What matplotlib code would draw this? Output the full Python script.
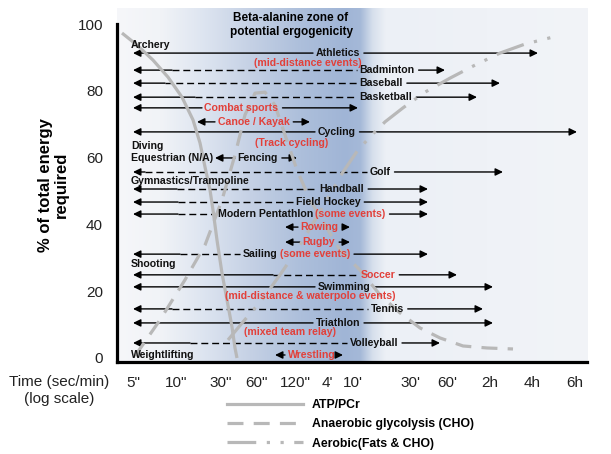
import numpy as np
import matplotlib
matplotlib.use("Agg")
import matplotlib.pyplot as plt
from matplotlib.lines import Line2D

plt.rcParams["font.family"] = ["Liberation Sans", "DejaVu Sans"]

# schematic log time axis: tick labels and their positions along the axis
time_labels = ['5"', '10"', '30"', '60"', '120"', "4'", "10'", "30'", "60'", "2h", "4h", "6h"]
time_pos = [16, 59, 104, 139, 178, 210, 236, 293, 330, 373, 415, 458]

# energy system curves (% of total energy)
atp_x = [5, 20, 36, 51, 65, 76, 83, 88, 93, 96, 100, 105, 110, 115, 118, 120]
atp_y = [97.3, 93.7, 89.2, 84.1, 78.1, 71.3, 64.4, 57.2, 50.3, 44.3, 35.3, 25.4, 17.4, 9.3, 3.0, 0]

glyc_x = [18, 43, 68, 88, 105, 118, 128, 138, 148, 158, 168, 180, 193, 208, 223, 243,
          263, 283, 303, 323, 346, 370, 396]
glyc_y = [0.6, 11.4, 23.4, 33.8, 47.3, 60.8, 72.8, 79.3, 79.6, 75.7, 66.8, 56.3, 47.3,
          39.8, 32.3, 26.3, 18.9, 13.5, 9.0, 6.0, 3.6, 3.0, 2.7]

aero_x = [111, 126, 145, 163, 180, 195, 211, 226, 241, 255, 268, 286, 308, 333, 358,
          383, 408, 440]
aero_y = [5.4, 10.8, 17.4, 24.9, 32.3, 39.8, 47.9, 55.7, 62.3, 66.8, 70.7, 74.9, 79.6,
          83.8, 87.7, 91.3, 94.0, 96.4]

# sports with their duration ranges
sports = ["Athletics", "Badminton", "Baseball", "Basketball", "Combat sports",
          "Canoe / Kayak", "Cycling", "Fencing", "Golf", "Handball", "Field Hockey",
          "Modern Pentathlon", "Rowing", "Rugby", "Sailing", "Soccer", "Swimming",
          "Tennis", "Triathlon", "Volleyball", "Wrestling"]
sport_y = [91.3, 86.2, 82.3, 78.1, 74.9, 70.7, 67.7, 59.9, 55.7, 50.6, 46.7, 43.1,
           39.2, 34.7, 31.1, 24.9, 21.3, 14.7, 10.5, 4.5, 0.9]
left_head = [16, 16, 16, 16, 16, 80, 16, 98, 16, 16, 16, 16, 168, 168, 16, 16, 16,
             16, 16, 16, 158]
solid_end = [196, 55, 48, 78, 85, 98, 198, 118, 28, 60, 61, 61, 181, 183, 63, 156,
             198, 55, 196, 73, 168]
left_end = [196, 240, 240, 240, 85, 98, 198, 118, 250, 200, 176, 98, 181, 183, 123,
            241, 198, 251, 196, 230, 168]
right_end = [421, 328, 383, 360, 241, 193, 460, 180, 386, 311, 311, 311, 233, 233,
             311, 340, 376, 366, 376, 323, 226]
red_sports = ["Combat sports", "Canoe / Kayak", "Rowing", "Rugby", "Soccer", "Wrestling"]
suffix = {"Modern Pentathlon": "(some events)", "Sailing": "(some events)"}

notes = ["(mid-distance events)", "(Track cycling)",
         "(mid-distance & waterpolo events)", "(mixed team relay)"]
note_x = [191, 175, 193, 173]
note_y = [88.3, 64.4, 18.5, 7.8]

plain = ["Archery", "Diving", "Equestrian (N/A)", "Gymnastics/Trampoline",
         "Shooting", "Weightlifting"]
plain_y = [93.7, 63.5, 59.9, 53.0, 28.1, 0.9]

RED = "#e2403a"
GRAY = "#b8b8b8"

fig = plt.figure(figsize=(6.11, 4.54), dpi=100)
ax = fig.add_axes([117 / 611, 92 / 454, 470 / 611, 354 / 454])
ax.set_xlim(0, 470)
ax.set_ylim(-1.2, 104.8)

# background with the beta-alanine zone
gx = np.linspace(0, 470, 600)
px = [0, 43, 83, 133, 183, 228, 243, 255, 268, 470]
cr = [246, 241, 223, 197, 173, 160, 165, 214, 236, 242]
cg = [247, 243, 230, 209, 191, 181, 185, 223, 240, 244]
cb = [250, 247, 241, 229, 219, 214, 216, 236, 246, 248]
grad = np.stack([np.interp(gx, px, cr), np.interp(gx, px, cg), np.interp(gx, px, cb)], axis=-1) / 255
ax.imshow(grad[None, :, :], extent=[0, 470, -1.2, 104.8], aspect="auto", zorder=0)

for s in ["top", "right"]:
    ax.spines[s].set_visible(False)
ax.spines["left"].set_linewidth(2.3)
ax.spines["bottom"].set_linewidth(2.3)
ax.spines["left"].set_bounds(-1.2, 100)

ax.set_yticks([0, 20, 40, 60, 80, 100])
ax.set_xticks(time_pos)
ax.set_xticklabels(time_labels)
ax.tick_params(length=0, labelsize=11, colors="#222222")
ax.tick_params(axis="y", pad=10)
ax.tick_params(axis="x", pad=10)

ax.set_ylabel("% of total energy\nrequired", fontsize=12, fontweight="bold", labelpad=6,
              linespacing=1.1)
fig.text(59 / 611, 1 - 375 / 454, "Time (sec/min)\n(log scale)", ha="center", va="top",
         fontsize=11, color="#222222", linespacing=1.25)

ax.text(174, 99.7, "Beta-alanine zone of\npotential ergogenicity", ha="center", va="center",
        fontsize=8.5, fontweight="bold", linespacing=1.3, zorder=5)

# energy curves
ax.plot(atp_x, atp_y, color=GRAY, lw=2.3, zorder=3, solid_capstyle="butt")
ax.plot(glyc_x, glyc_y, color=GRAY, lw=2.3, ls=(0, (5, 3.2)), zorder=3)
ax.plot(aero_x, aero_y, color=GRAY, lw=2.3, ls=(0, (9, 3.3, 1, 3.3, 1, 3.3)), zorder=3)

arrow_kw = dict(arrowstyle="-|>,head_length=0.45,head_width=0.22", lw=1.0, color="black",
                mutation_scale=10, shrinkA=0, shrinkB=0)

renderer = fig.canvas.get_renderer()
inv = ax.transData.inverted()

for i, name in enumerate(sports):
    y = sport_y[i]
    ax.annotate("", xy=(left_head[i], y), xytext=(solid_end[i], y), arrowprops=arrow_kw, zorder=2)
    if left_end[i] > solid_end[i]:
        ax.plot([solid_end[i], left_end[i]], [y, y], color="black", lw=1.0,
                ls=(0, (5, 2.8)), zorder=2)
    col = RED if name in red_sports else "#111111"
    t = ax.text(left_end[i] + 2.5, y, name, ha="left", va="center", fontsize=7.6,
                fontweight="bold", color=col, zorder=5)
    x_end = inv.transform(t.get_window_extent(renderer).get_points())[1, 0]
    if name in suffix:
        t2 = ax.text(x_end + 2.5, y, suffix[name], ha="left", va="center", fontsize=7.6,
                     fontweight="bold", color=RED, zorder=5)
        x_end = inv.transform(t2.get_window_extent(renderer).get_points())[1, 0]
    ax.annotate("", xy=(right_end[i], y), xytext=(x_end + 4, y), arrowprops=arrow_kw, zorder=2)

for txt, x, y in zip(notes, note_x, note_y):
    ax.text(x, y, txt, ha="center", va="center", fontsize=7.6, fontweight="bold",
            color=RED, zorder=5)

for txt, y in zip(plain, plain_y):
    ax.text(14, y, txt, ha="left", va="center", fontsize=7.6, fontweight="bold",
            color="#111111", zorder=5)

handles = [Line2D([], [], color=GRAY, lw=2.3),
           Line2D([], [], color=GRAY, lw=2.3, ls=(0, (5, 3.2))),
           Line2D([], [], color=GRAY, lw=2.3, ls=(0, (9, 3.3, 1, 3.3, 1, 3.3)))]
labels = ["ATP/PCr", "Anaerobic glycolysis (CHO)", "Aerobic(Fats & CHO)"]
leg = fig.legend(handles, labels, loc="upper left", bbox_to_anchor=(227 / 611, 1 - 399 / 454),
                 frameon=False, handlelength=6.2, handletextpad=0.75, labelspacing=0.6,
                 borderpad=0, borderaxespad=0, prop={"size": 8.8, "weight": "bold"})

fig.savefig("out.png", dpi=100)
